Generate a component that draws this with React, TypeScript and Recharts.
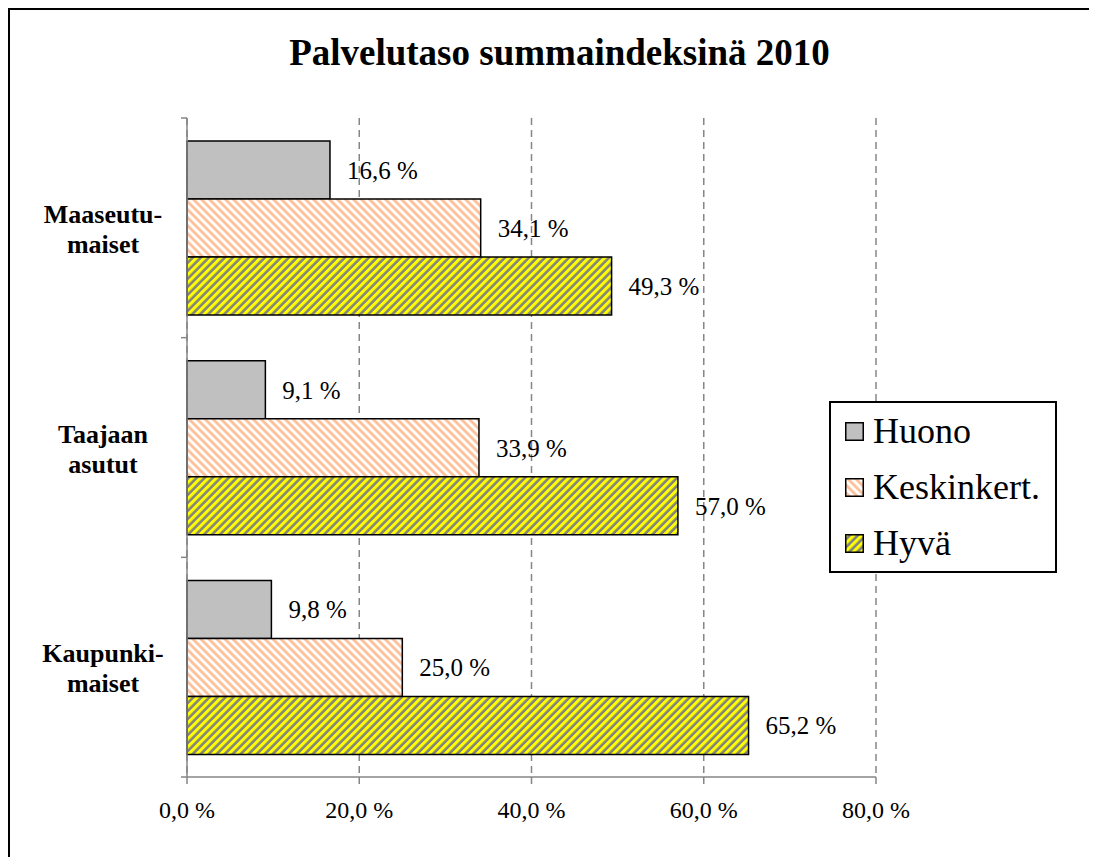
import React from 'react';
import { Bar, BarChart, CartesianGrid, XAxis, YAxis, Legend, LabelList } from 'recharts';

const categories = ['Maaseutu-\nmaiset', 'Taajaan\nasutut', 'Kaupunki-\nmaiset'];
const huono = [16.6, 9.1, 9.8];
const keskinkert = [34.1, 33.9, 25.0];
const hyva = [49.3, 57.0, 65.2];
const seriesNames = ['Huono', 'Keskinkert.', 'Hyvä'];
const xTicks = [0, 20, 40, 60, 80];
const title = 'Palvelutaso summaindeksinä 2010';

const chartData = categories.map((name, i) => ({
  name,
  huono: huono[i],
  keskinkert: keskinkert[i],
  hyva: hyva[i],
}));

const FONT = '"Liberation Serif", "Times New Roman", serif';
const AXIS = '#868686';
const Y_AXIS_X = 177;

const pct = (v: any) => `${Number(v).toFixed(1).replace('.', ',')} %`;

// category label plus the small tick marks on the band boundaries
const CategoryTick = ({ y, payload, index, visibleTicksCount }: any) => {
  const lines = String(payload.value).split('\n');
  const half = payload.offset || 0;
  const last = index === visibleTicksCount - 1;
  return (
    <g>
      <line x1={Y_AXIS_X - 6} x2={Y_AXIS_X} y1={y - half} y2={y - half} stroke={AXIS} strokeWidth={1.5} />
      {last && <line x1={Y_AXIS_X - 6} x2={Y_AXIS_X} y1={y + half} y2={y + half} stroke={AXIS} strokeWidth={1.5} />}
      <text x={93} y={y} textAnchor="middle" style={{ fontFamily: FONT }} fontSize={26} fontWeight="bold" fill="#000">
        {lines.map((l, i) => (
          <tspan key={i} x={93} y={y - 5 + i * 30}>{l}</tspan>
        ))}
      </text>
    </g>
  );
};

const ValueTick = ({ x, y, payload }: any) => (
  <text x={x} y={y + 34} textAnchor="middle" style={{ fontFamily: FONT }} fontSize={24} fill="#000">
    {pct(payload.value)}
  </text>
);

const LegendBox = ({ payload }: any) => {
  const items = [...(payload || [])].sort(
    (a: any, b: any) => seriesNames.indexOf(a.value) - seriesNames.indexOf(b.value)
  );
  return (
    <div
      style={{
        border: '2px solid #000',
        background: '#fff',
        width: 228,
        height: 172,
        boxSizing: 'border-box',
        fontFamily: FONT,
        fontSize: 36,
      }}
    >
      {items.map((p: any, i: number) => (
        <div key={i} style={{ display: 'flex', alignItems: 'center', height: 56, lineHeight: '56px', paddingLeft: 14 }}>
          <svg width={19} height={19} style={{ marginRight: 9, flex: 'none' }}>
            <rect x={0.75} y={0.75} width={17.5} height={17.5} fill={p.color} stroke="#000" strokeWidth={1.5} />
          </svg>
          <span style={{ color: '#000' }}>{p.value}</span>
        </div>
      ))}
    </div>
  );
};

export default function App() {
  return (
    <div
      style={{
        position: 'relative',
        width: 1081,
        height: 849,
        borderTop: '2px solid #000',
        borderLeft: '2px solid #000',
        boxSizing: 'border-box',
        background: '#fff',
      }}
    >
      <div
        style={{
          position: 'absolute',
          left: 149.5,
          top: 24,
          width: 800,
          textAlign: 'center',
          fontFamily: FONT,
          fontSize: 37,
          lineHeight: '37px',
          fontWeight: 'bold',
          color: '#000',
          whiteSpace: 'nowrap',
        }}
      >
        {title}
      </div>
      <div style={{ position: 'absolute', left: 0, top: 0 }}>
        <BarChart
          width={1079}
          height={847}
          data={chartData}
          layout="vertical"
          margin={{ top: 108, right: 213, left: 0, bottom: 20 }}
          barCategoryGap="10.5%"
          barGap={0}
        >
          <defs>
            <pattern id="patKesk" width={5.66} height={5.66} patternUnits="userSpaceOnUse" patternTransform="rotate(-45)">
              <rect width={5.66} height={5.66} fill="#ffffff" />
              <rect width={2.9} height={5.66} fill="#fcc29c" />
            </pattern>
            <pattern id="patHyva" width={5.66} height={5.66} patternUnits="userSpaceOnUse" patternTransform="rotate(45)">
              <rect width={5.66} height={5.66} fill="#808080" />
              <rect width={3.1} height={5.66} fill="#ffff00" />
            </pattern>
          </defs>
          <CartesianGrid horizontal={false} stroke={AXIS} strokeWidth={1.5} strokeDasharray="7 5" />
          <XAxis
            type="number"
            domain={[0, 80]}
            ticks={xTicks}
            height={60}
            stroke={AXIS}
            strokeWidth={1.5}
            tickSize={7}
            tickMargin={0}
            tick={<ValueTick />}
            interval={0}
          />
          <YAxis
            type="category"
            dataKey="name"
            width={177}
            stroke={AXIS}
            strokeWidth={1.5}
            tickLine={false}
            tick={<CategoryTick />}
            interval={0}
          />
          <Legend
            layout="vertical"
            align="center"
            verticalAlign="middle"
            content={<LegendBox />}
            wrapperStyle={{ position: 'absolute', left: 819, top: 391, width: 228, height: 172 }}
          />
          <Bar dataKey="huono" name={seriesNames[0]} fill="#c0c0c0" stroke="#000" strokeWidth={1.5} isAnimationActive={false}>
            <LabelList dataKey="huono" position="right" offset={17} formatter={pct} fill="#000" style={{ fontFamily: FONT }} fontSize={25} />
          </Bar>
          <Bar dataKey="keskinkert" name={seriesNames[1]} fill="url(#patKesk)" stroke="#000" strokeWidth={1.5} isAnimationActive={false}>
            <LabelList dataKey="keskinkert" position="right" offset={17} formatter={pct} fill="#000" style={{ fontFamily: FONT }} fontSize={25} />
          </Bar>
          <Bar dataKey="hyva" name={seriesNames[2]} fill="url(#patHyva)" stroke="#000" strokeWidth={1.5} isAnimationActive={false}>
            <LabelList dataKey="hyva" position="right" offset={17} formatter={pct} fill="#000" style={{ fontFamily: FONT }} fontSize={25} />
          </Bar>
        </BarChart>
      </div>
    </div>
  );
}
